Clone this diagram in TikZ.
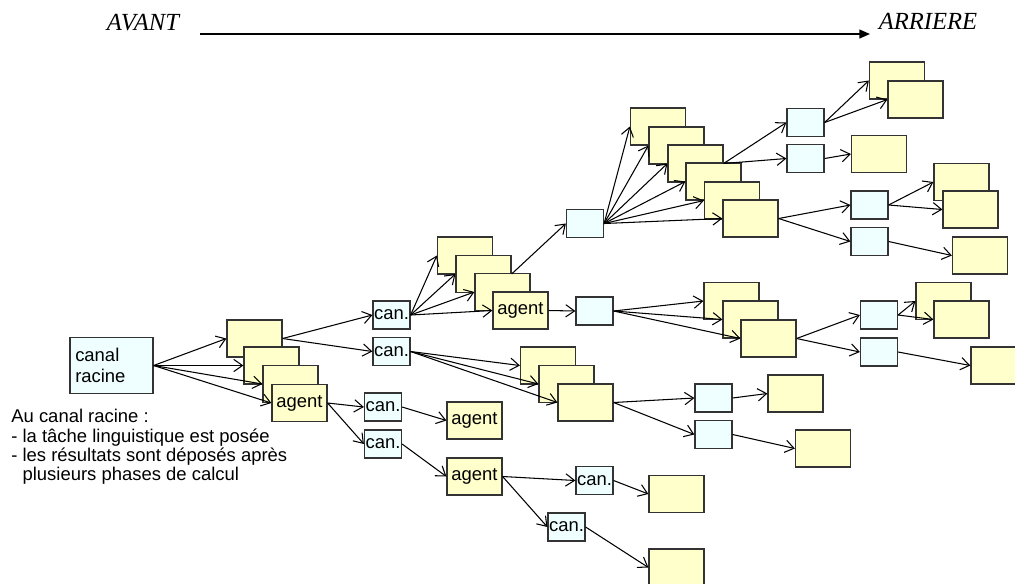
\documentclass[tikz,border=0pt]{standalone}
\usepackage{fontspec}
\setmainfont{Liberation Sans}
\newfontfamily\serifit{Liberation Serif}
\usetikzlibrary{arrows.meta}
\definecolor{agentfill}{HTML}{FFFFCC}
\definecolor{canfill}{HTML}{EFFFFF}
\definecolor{boxline}{HTML}{333333}
\tikzset{
  agentbox/.style={
    rectangle, draw=boxline, fill=agentfill,
    minimum width=1.1cm, minimum height=0.74cm, inner sep=1pt,
    font=\fontsize{10.5}{12}\selectfont, line width=0.7pt
  },
  canbox/.style={
    rectangle, draw=boxline, fill=canfill,
    minimum width=0.74cm, minimum height=0.56cm, inner sep=0.5pt,
    font=\fontsize{10.5}{12}\selectfont, line width=0.7pt
  },
  rootbox/.style={
    rectangle, draw=boxline, fill=canfill, align=left, text width=1.45cm,
    minimum height=1.12cm, inner sep=3pt,
    font=\fontsize{10.5}{12}\selectfont, line width=0.7pt
  },
  headtext/.style={font=\serifit\itshape\fontsize{14}{16}\selectfont, inner sep=0pt},
  note/.style={align=left, inner sep=0pt, font=\fontsize{10.5}{11}\selectfont},
  arrow/.style={-{Straight Barb[length=5pt,width=7pt]}, line width=0.6pt, draw=black},
  axis/.style={-{Triangle[length=6pt,width=5pt]}, line width=0.8pt, draw=black},
}

\begin{document}
\begin{tikzpicture}[x=0.02cm, y=-0.02cm]
    \clip (0,0) rectangle (1015,583);

    % sens de lecture
    \node[headtext] (avant) at (143,22.5) {AVANT};
    \node[headtext] (arriere) at (928,21.5) {ARRIERE};
    \coordinate (axisstart) at (200,34);
    \coordinate (axisend) at (870,34);
    \draw[axis] (axisstart) -- (axisend);

    % canal racine
    \node[rootbox] (root) at (111.5,365.5) {canal\\racine};
    \node[note, anchor=north west] (remark) at (11,409)
      {Au canal racine :\\- la tâche linguistique est posée\\- les résultats sont déposés après\\\hphantom{- }plusieurs phases de calcul};

    % premier niveau
    \node[agentbox] (a1) at (254.5,338.5) {};
    \node[agentbox] (a2) at (271.5,365.5) {};
    \node[agentbox] (a3) at (290.5,384) {};
    \node[agentbox] (a4) at (299.5,403) {agent};

    \node[canbox] (can1) at (391.5,315) {can.};
    \node[canbox] (can2) at (391.5,351.5) {can.};
    \node[canbox] (can3) at (383,407) {can.};
    \node[canbox] (can4) at (383,444) {can.};

    % branche basse
    \node[agentbox] (b1) at (474.5,420.5) {agent};
    \node[agentbox] (b2) at (474.5,476.5) {agent};
    \node[canbox] (can5) at (594.5,480.5) {can.};
    \node[canbox] (can6) at (566.5,527) {can.};
    \node[agentbox] (q1) at (676.5,494) {};
    \node[agentbox] (q2) at (676.5,567.5) {};

    % branche haute
    \node[agentbox] (c1) at (465,255.5) {};
    \node[agentbox] (c2) at (483.5,274) {};
    \node[agentbox] (c3) at (502.5,292) {};
    \node[agentbox] (c4) at (520.5,310.5) {agent};
    \node[canbox] (d) at (594.5,311) {};
    \node[canbox] (e) at (585,223.5) {};

    \node[agentbox] (f1) at (658,126.5) {};
    \node[agentbox] (f2) at (676.5,145.5) {};
    \node[agentbox] (f3) at (695.5,163.5) {};
    \node[agentbox] (f4) at (713.5,181.5) {};
    \node[agentbox] (f5) at (732,200.5) {};
    \node[agentbox] (f6) at (750.5,218.5) {};

    \node[canbox] (g1) at (805.5,122.5) {};
    \node[canbox] (g2) at (805.5,158.5) {};
    \node[agentbox] (h1) at (897,80.5) {};
    \node[agentbox] (h2) at (915.5,99.5) {};
    \node[agentbox] (h3) at (879,154) {};

    \node[canbox] (i1) at (869.5,205) {};
    \node[canbox] (i2) at (869.5,241.5) {};
    \node[agentbox] (k1) at (961.5,182) {};
    \node[agentbox] (k2) at (970.5,209.5) {};
    \node[agentbox] (k3) at (980,255.5) {};

    \node[agentbox] (j1) at (731.5,301) {};
    \node[agentbox] (j2) at (750.5,319.5) {};
    \node[agentbox] (j3) at (768.5,338.5) {};
    \node[canbox] (l1) at (879,315) {};
    \node[canbox] (l2) at (879,352) {};
    \node[agentbox] (m1) at (943.5,301) {};
    \node[agentbox] (m2) at (961.5,319.5) {};
    \node[agentbox] (m3) at (998.5,365.5) {};

    % branche du milieu
    \node[agentbox] (n1) at (548,365.5) {};
    \node[agentbox] (n2) at (566.5,384) {};
    \node[agentbox] (n3) at (585.5,402.5) {};
    \node[canbox] (o1) at (713.5,398) {};
    \node[canbox] (o2) at (713.5,434.5) {};
    \node[agentbox] (p1) at (795.5,393.5) {};
    \node[agentbox] (p2) at (823,448.5) {};

    % connexions
    \draw[arrow] (root.east) -- (a1.west);
    \draw[arrow] (root.east) -- (a2.west);
    \draw[arrow] (root.east) -- (a3.west);
    \draw[arrow] (root.east) -- (a4.west);
    \draw[arrow] (a1.east) -- (can1.west);
    \draw[arrow] (a1.east) -- (can2.west);
    \draw[arrow] (a4.east) -- (can3.west);
    \draw[arrow] (a4.east) -- (can4.west);
    \draw[arrow] (can3.east) -- (b1.west);
    \draw[arrow] (can4.east) -- (b2.west);
    \draw[arrow] (b2.east) -- (can5.west);
    \draw[arrow] (b2.east) -- (can6.west);
    \draw[arrow] (can5.east) -- (q1.west);
    \draw[arrow] (can6.east) -- (q2.west);

    \draw[arrow] (can1.east) -- (c1.west);
    \draw[arrow] (can1.east) -- (c2.west);
    \draw[arrow] (can1.east) -- (c3.west);
    \draw[arrow] (can1.east) -- (c4.west);
    \draw[arrow] (c2.east) -- (e.west);
    \draw[arrow] (c4.east) -- (d.west);

    \draw[arrow] (e.east) -- (f1.west);
    \draw[arrow] (e.east) -- (f2.west);
    \draw[arrow] (e.east) -- (f3.west);
    \draw[arrow] (e.east) -- (f4.west);
    \draw[arrow] (e.east) -- (f5.west);
    \draw[arrow] (e.east) -- (f6.west);
    \draw[arrow] (f3.east) -- (g1.west);
    \draw[arrow] (f3.east) -- (g2.west);
    \draw[arrow] (g1.east) -- (h1.west);
    \draw[arrow] (g1.east) -- (h2.west);
    \draw[arrow] (g2.east) -- (h3.west);
    \draw[arrow] (f6.east) -- (i1.west);
    \draw[arrow] (f6.east) -- (i2.west);
    \draw[arrow] (i1.east) -- (k1.west);
    \draw[arrow] (i1.east) -- (k2.west);
    \draw[arrow] (i2.east) -- (k3.west);

    \draw[arrow] (d.east) -- (j1.west);
    \draw[arrow] (d.east) -- (j2.west);
    \draw[arrow] (d.east) -- (j3.west);
    \draw[arrow] (j3.east) -- (l1.west);
    \draw[arrow] (j3.east) -- (l2.west);
    \draw[arrow] (l1.east) -- (m1.west);
    \draw[arrow] (l1.east) -- (m2.west);
    \draw[arrow] (l2.east) -- (m3.west);

    \draw[arrow] (can2.east) -- (n1.west);
    \draw[arrow] (can2.east) -- (n2.west);
    \draw[arrow] (can2.east) -- (n3.west);
    \draw[arrow] (n3.east) -- (o1.west);
    \draw[arrow] (n3.east) -- (o2.west);
    \draw[arrow] (o1.east) -- (p1.west);
    \draw[arrow] (o2.east) -- (p2.west);
  \end{tikzpicture}
\end{document}
